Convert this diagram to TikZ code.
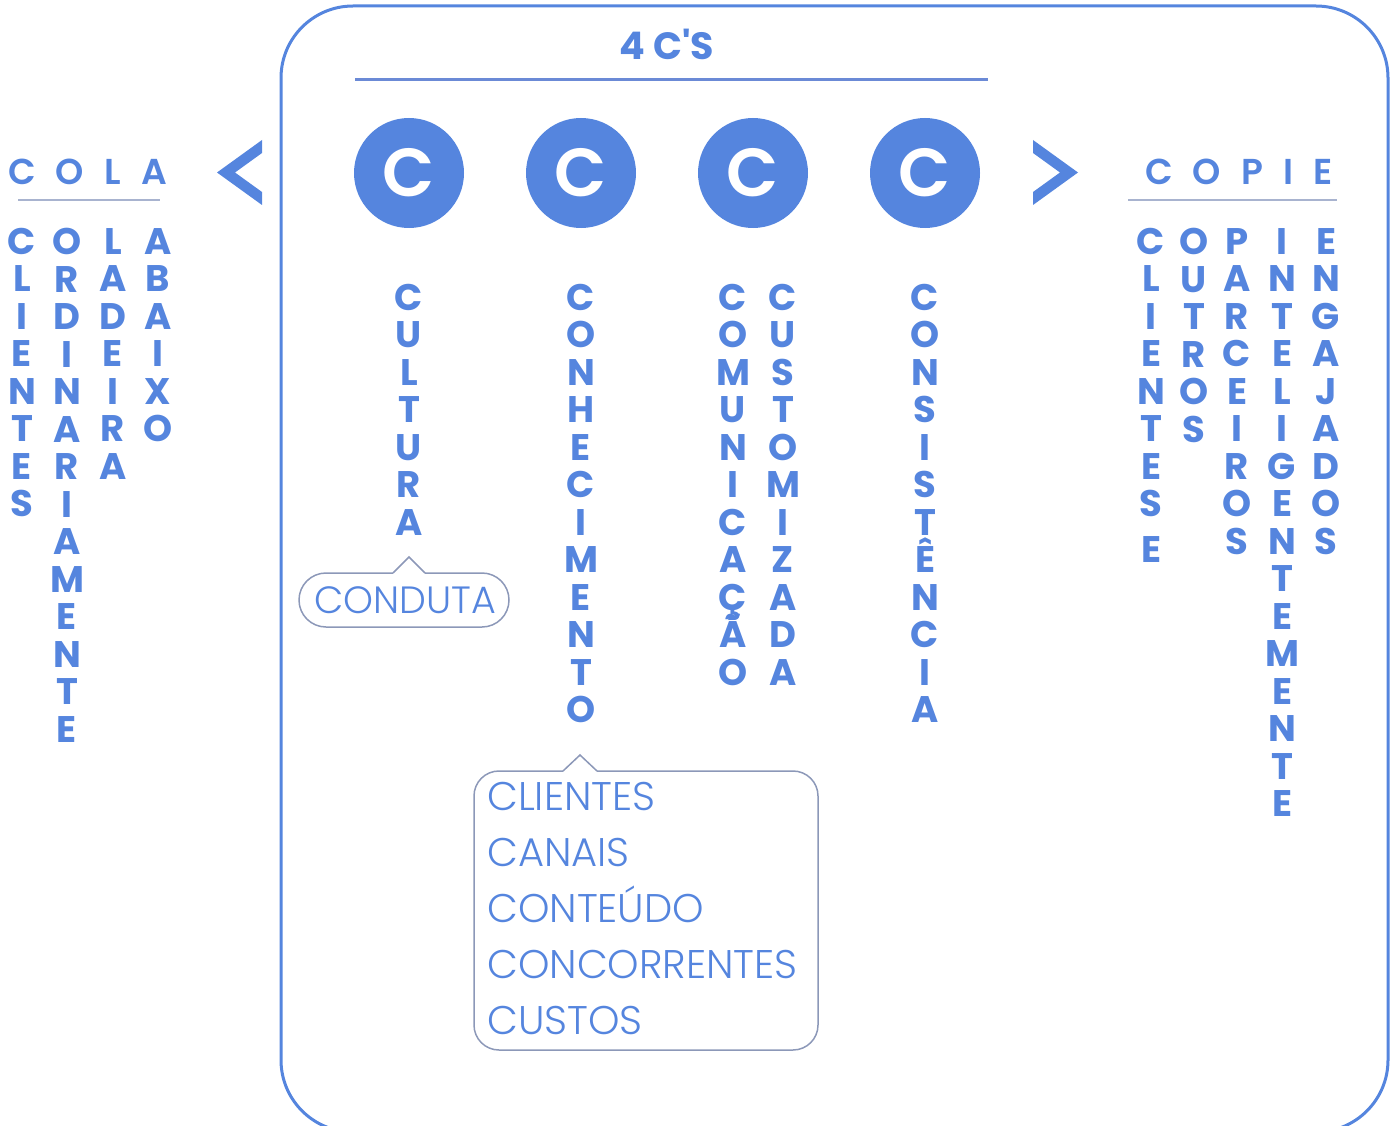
\documentclass[tikz,border=0pt]{standalone}
\usepackage{fontspec}
\setmainfont{Poppins}
\newfontfamily\plight{Poppins Light}
\newfontfamily\pmed{Poppins Medium}
\newfontfamily\psemi{Poppins SemiBold}
\definecolor{cblue}{HTML}{5585DE}
\definecolor{cline}{HTML}{6B8AD6}
\definecolor{cgray}{HTML}{8C98B8}
\definecolor{clight}{HTML}{A8B3CF}
\newcommand\vgap{}
\makeatletter
\newcommand\vstk[1]{\vbox{\baselineskip=37.5pt\lineskiplimit=-1000pt\lineskip=0pt\vstk@#1\@nil}}
\def\vstk@#1{\ifx#1\@nil\else\ifx#1\vgap\vskip8.5pt\else\hbox to 40pt{\hss#1\hss}\fi\expandafter\vstk@\fi}
\makeatother
\tikzset{
  vword/.style={inner sep=0pt, anchor=north, text=cblue, font=\bfseries\fontsize{37}{37.5}\selectfont},
  header/.style={inner sep=0pt, anchor=base west, text=cblue, font=\psemi\fontsize{36}{40}\selectfont\addfontfeature{LetterSpace=56}},
  cbubble/.style={circle, fill=cblue, minimum size=110pt, inner sep=0pt, text=white, font=\psemi\fontsize{68}{70}\selectfont},
  item/.style={inner sep=0pt, anchor=base west, text=cblue, font=\plight\fontsize{40}{44}\selectfont},
  callout/.style={draw=cgray, line width=1.5pt, line join=miter},
  underline/.style={line width=2.5pt, clight},
}
\begin{document}
\begin{tikzpicture}[x=1pt,y=-1pt]
\useasboundingbox (0,0) rectangle (1397,1126);
\clip (0,0) rectangle (1397,1126);
% big frame
\draw[cblue, line width=3pt, rounded corners=72pt] (281,1132) -- (281,6) -- (1388,6) -- (1388,1132) -- cycle;
% title
\node[inner sep=0pt, anchor=base, text=cblue, font=\bfseries\fontsize{38}{40}\selectfont] (title) at (667,60) {4 C\textquotesingle S};
\draw[cline, line width=3pt] (355,80) -- (988,80);
% circles
\node[cbubble] (c1) at (409,173) {C};
\node[cbubble] (c2) at (581,173) {C};
\node[cbubble] (c3) at (753,173) {C};
\node[cbubble] (c4) at (925,173) {C};
% chevrons
\fill[cblue] (262,140) -- (217,172.5) -- (262,205) -- (262,192) -- (235,172.5) -- (262,153) -- cycle;
\fill[cblue] (1033,140) -- (1078,172.5) -- (1033,205) -- (1033,192) -- (1060,172.5) -- (1033,153) -- cycle;
% headers
\node[header] (cola) at (8,184.5) {COLA};
\draw[underline] (18,200) -- (160,200);
\node[header] (copie) at (1145,184.5) {COPIE};
\draw[underline] (1128,200) -- (1337,200);
% left columns
\node[vword] (w1) at (22,228) {\vstk{CLIENTES}};
\node[vword] (w2) at (67,228) {\vstk{ORDINARIAMENTE}};
\node[vword] (w3) at (113,228) {\vstk{LADEIRA}};
\node[vword] (w4) at (158,228) {\vstk{ABAIXO}};
% central columns
\node[vword] (w5) at (409,284) {\vstk{CULTURA}};
\node[vword] (w6) at (581,284) {\vstk{CONHECIMENTO}};
\node[vword] (w7) at (733,284) {\vstk{COMUNICAÇÃO}};
\node[vword] (w8) at (783,284) {\vstk{CUSTOMIZADA}};
\node[vword] (w9) at (925,284) {\vstk{CONSISTÊNCIA}};
% right columns
\node[vword] (w10) at (1151,228) {\vstk{CLIENTES\vgap E}};
\node[vword] (w11) at (1194,228) {\vstk{OUTROS}};
\node[vword] (w12) at (1237,228) {\vstk{PARCEIROS}};
\node[vword] (w13) at (1282,228) {\vstk{INTELIGENTEMENTE}};
\node[vword] (w14) at (1326,228) {\vstk{ENGAJADOS}};
% conduta callout
\draw[callout, rounded corners=27pt] (425,573) -- (509,573) -- (509,627) -- (299,627) -- (299,573) -- (393,573);
\draw[callout] (393,573) -- (409,557) -- (425,573);
\node[item, anchor=base, font=\plight\fontsize{38}{40}\selectfont] (conduta) at (405,613) {CONDUTA};
% list callout
\draw[callout, rounded corners=25pt] (597,771) -- (818,771) -- (818,1050) -- (474,1050) -- (474,771) -- (563,771);
\draw[callout] (563,771) -- (580,755) -- (597,771);
\node[item] (l1) at (487,810) {CLIENTES};
\node[item] (l2) at (487,866) {CANAIS};
\node[item] (l3) at (487,922) {CONTEÚDO};
\node[item] (l4) at (487,978) {CONCORRENTES};
\node[item] (l5) at (487,1034) {CUSTOS};
\end{tikzpicture}
\end{document}
